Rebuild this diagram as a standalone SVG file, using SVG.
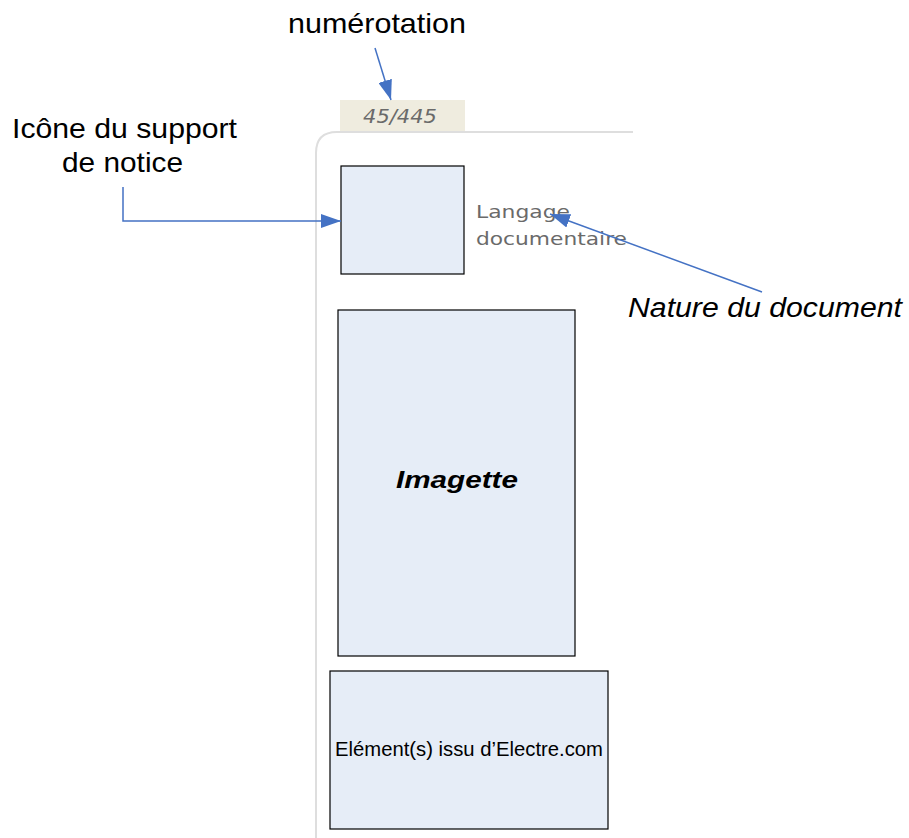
<svg xmlns="http://www.w3.org/2000/svg" width="909" height="838" viewBox="0 0 909 838">
<style>
.box{fill:#e6edf7;stroke:#000;stroke-width:1.2}
.lbl{font-family:"Liberation Sans",Arial,sans-serif;fill:#000}
.conn{fill:none;stroke:#4472c4;stroke-width:1.5}
.ui{font-family:"DejaVu Sans","Liberation Sans",sans-serif;fill:#6a6a6a}
</style>
<defs>
<marker id="ahb" viewBox="0 0 20 14" refX="20" refY="7" markerWidth="20" markerHeight="14" orient="auto" markerUnits="userSpaceOnUse">
<path d="M0,0 L20,7 L0,14 z" fill="#4472c4"/>
</marker>
</defs>
<rect width="909" height="838" fill="#fff"/>
<g id="panel">
<path d="M316,838 L316,153 Q316,132 337,132 L633,132" fill="none" stroke="#dedede" stroke-width="2"/>
<rect x="340" y="100" width="125" height="31" fill="#efecdf"/>
<text x="363" y="123" class="ui" font-size="19" font-style="italic" fill="#5a5a5a" textLength="74" lengthAdjust="spacingAndGlyphs">45/445</text>
</g>
<g id="icon">
<rect class="box" x="341" y="166" width="123" height="108"/>
</g>
<g id="langage">
<text class="ui" x="476" y="218" font-size="17" textLength="94" lengthAdjust="spacingAndGlyphs">Langage</text>
<text class="ui" x="476" y="245" font-size="17" textLength="151" lengthAdjust="spacingAndGlyphs">documentaire</text>
</g>
<g id="imagette">
<rect class="box" x="338" y="310" width="237" height="346"/>
<text class="lbl" x="396" y="488" font-size="24" font-weight="bold" font-style="italic" textLength="122" lengthAdjust="spacingAndGlyphs">Imagette</text>
</g>
<g id="electre">
<rect class="box" x="330" y="671" width="278" height="158"/>
<text class="lbl" x="335" y="756" font-size="19.5" textLength="268" lengthAdjust="spacingAndGlyphs">Elément(s) issu d’Electre.com</text>
</g>
<g id="label-numerotation">
<text class="lbl" x="288" y="33" font-size="28" textLength="178" lengthAdjust="spacingAndGlyphs">numérotation</text>
</g>
<g id="label-icone">
<text class="lbl" x="12" y="138" font-size="28" textLength="225" lengthAdjust="spacingAndGlyphs">Icône du support</text>
<text class="lbl" x="62" y="172" font-size="28" textLength="121" lengthAdjust="spacingAndGlyphs">de notice</text>
</g>
<g id="label-nature">
<text class="lbl" x="628" y="317" font-size="27" font-style="italic" textLength="274" lengthAdjust="spacingAndGlyphs">Nature du document</text>
</g>
<g id="connectors">
<path class="conn" d="M375,48 L391,100" marker-end="url(#ahb)"/>
<path class="conn" d="M123,187 L123,221 L341,221" marker-end="url(#ahb)"/>
<path class="conn" d="M762,292 L550,214" marker-end="url(#ahb)"/>
</g>
</svg>
